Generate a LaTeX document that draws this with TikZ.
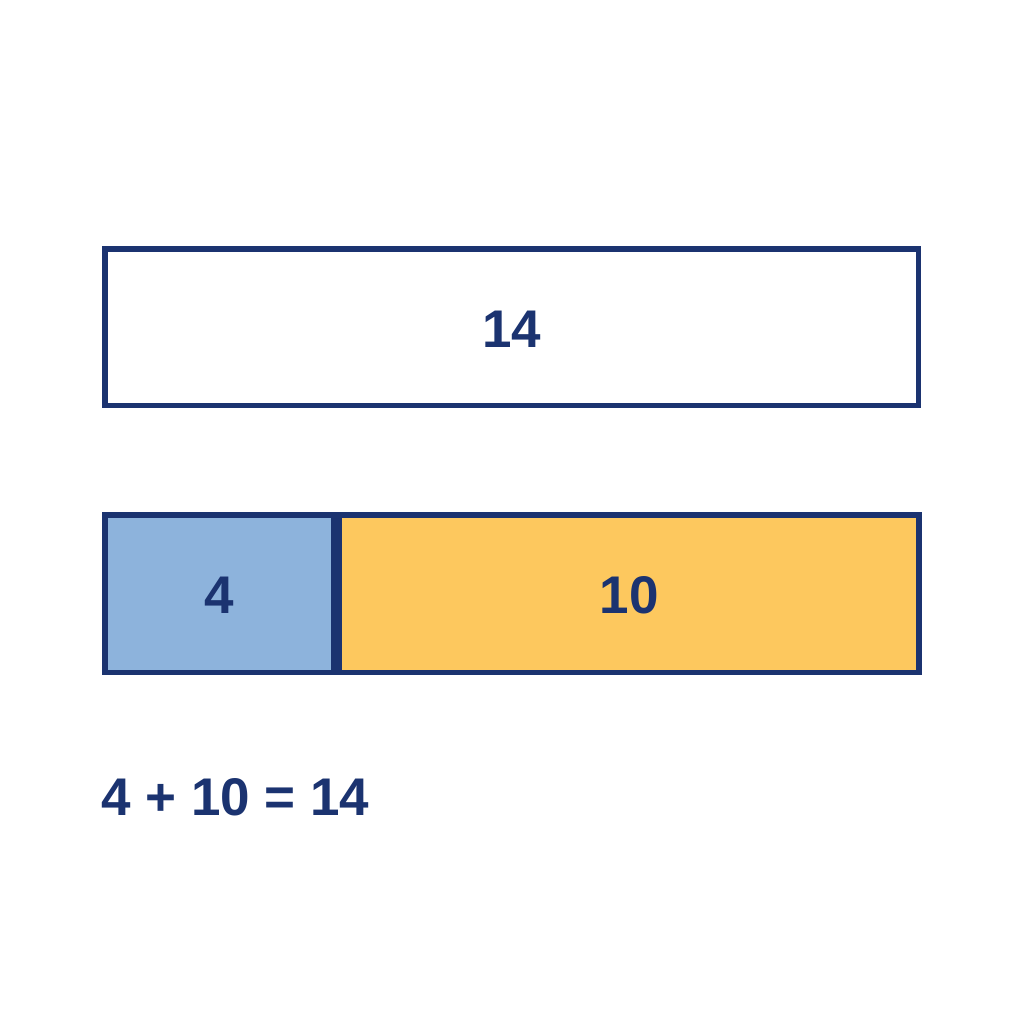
\documentclass[tikz,border=0pt]{standalone}
\usepackage{fontspec}
\setmainfont{Liberation Sans}
\definecolor{navy}{HTML}{1B3370}
\definecolor{lblue}{HTML}{8DB3DC}
\definecolor{lyellow}{HTML}{FDC85E}
\begin{document}
\begin{tikzpicture}[x=1pt,y=1pt,
  barbox/.style={draw=navy,line width=5.5pt},
  lab/.style={text=navy,font=\fontsize{53}{60}\selectfont\bfseries,inner sep=0pt}]
\useasboundingbox[fill=white] (0,0) rectangle (1024,1024);
\draw[barbox,fill=white] (104.8,618.7) rectangle (918.7,775.2);
\draw[barbox,fill=lblue] (104.8,351.7) rectangle (333.6,509.2);
\draw[barbox,fill=lyellow] (339.0,351.7) rectangle (919.2,509.2);
\fill[navy] (333,349) rectangle (340,512);
\node[lab] (total) at (512,695) {14};
\node[lab] (four) at (219,429) {4};
\node[lab] (ten) at (629,429) {10};
\node[lab,anchor=west] (eq) at (101,227) {4 + 10 = 14};
\end{tikzpicture}
\end{document}
